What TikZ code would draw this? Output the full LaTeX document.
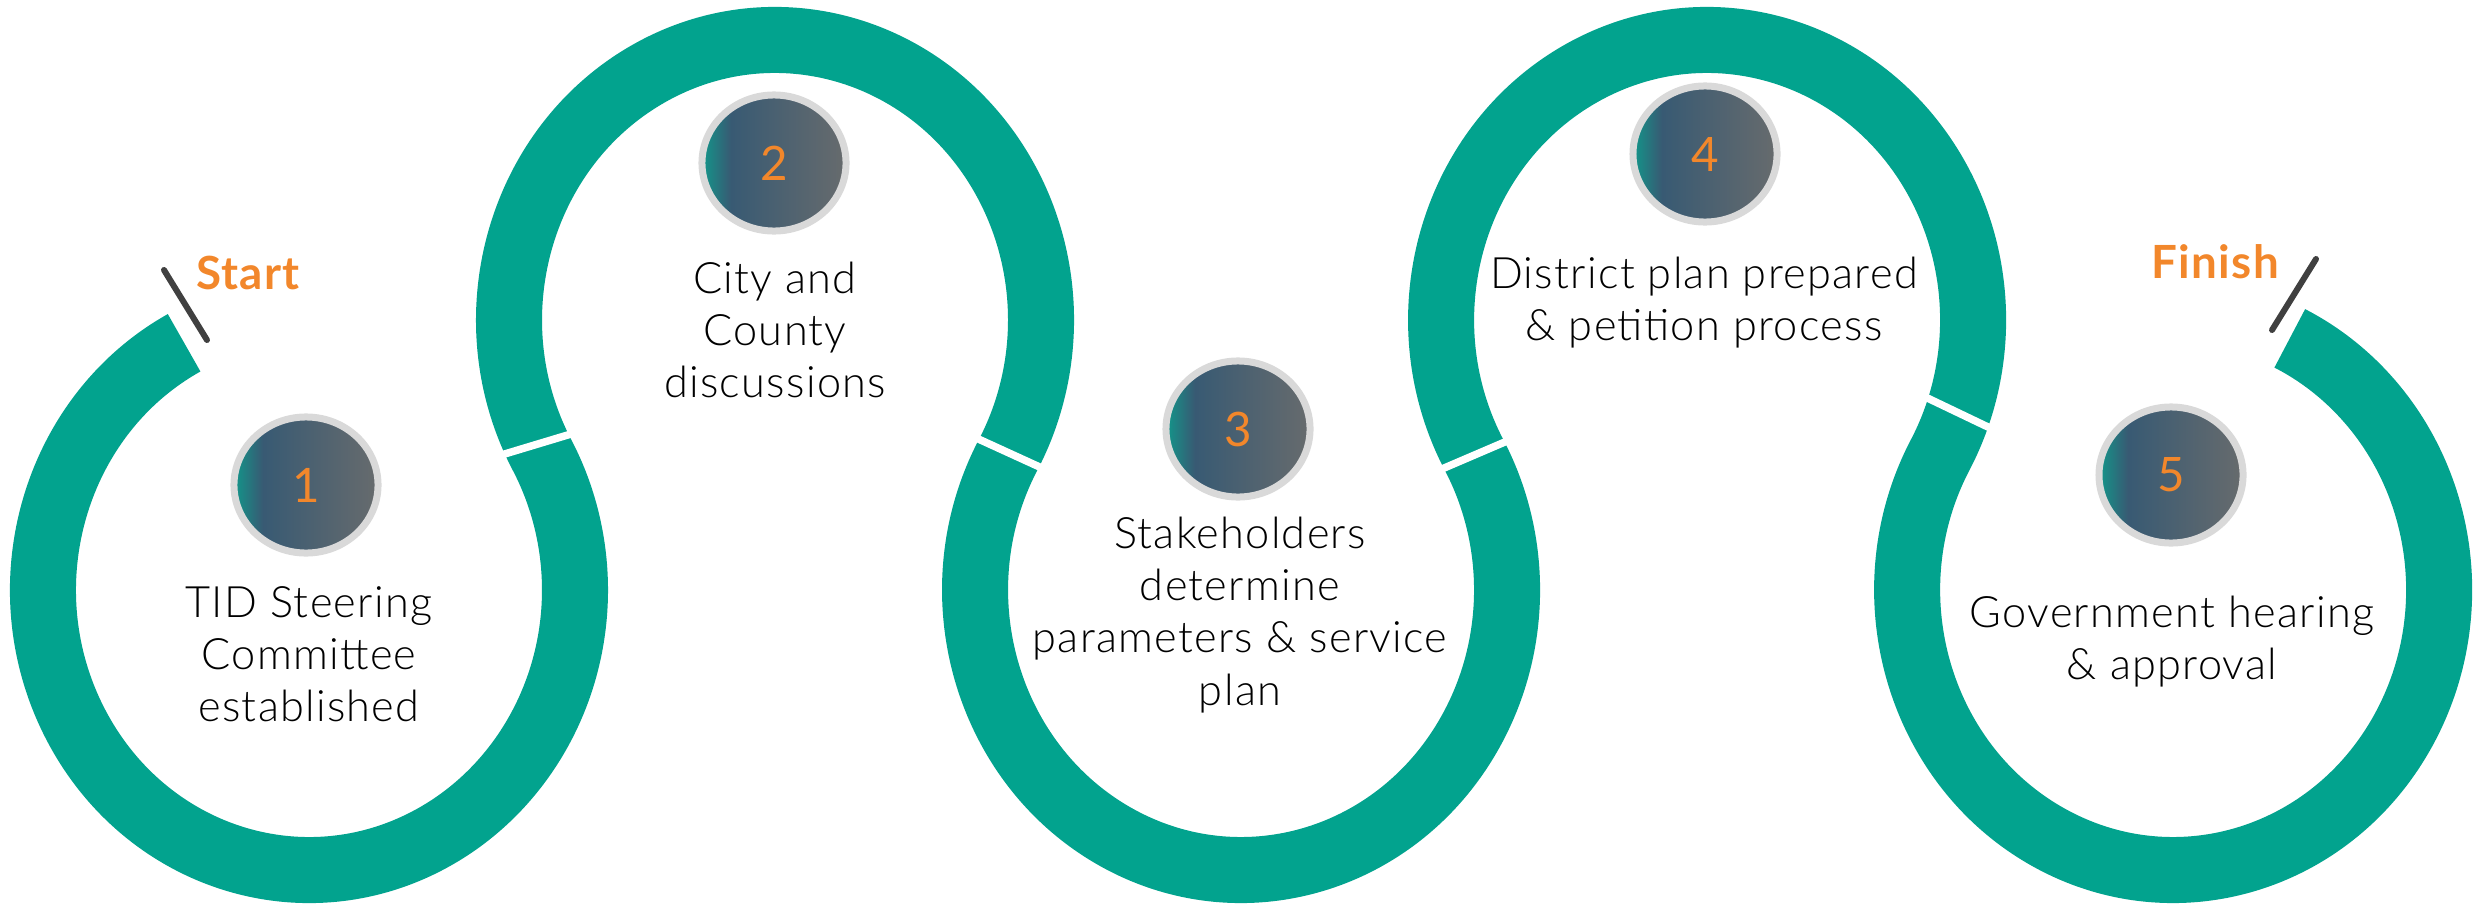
\documentclass[tikz,border=0pt]{standalone}
\usepackage{fontspec}
\setmainfont{Lato Light}[BoldFont={Lato Bold}, LetterSpace=3]
\newfontfamily\numfont{Lato}
\usetikzlibrary{shapes.geometric}

\definecolor{bandteal}{RGB}{2,163,142}
\definecolor{numorange}{RGB}{242,135,43}
\definecolor{ringgrey}{RGB}{217,217,217}
\definecolor{tickgrey}{RGB}{64,64,64}
\definecolor{shteal}{RGB}{18,150,138}
\definecolor{shslate}{RGB}{56,90,115}
\definecolor{shgrey}{RGB}{103,107,109}

% teal edge on the left, slate to grey towards the right
\pgfdeclarehorizontalshading{badgefill}{100bp}{color(0bp)=(shteal); color(25bp)=(shteal);
  color(35bp)=(shslate); color(75bp)=(shgrey); color(100bp)=(shgrey)}

\begin{document}
\begin{tikzpicture}[x=0.01cm, y=0.01cm,
        band/.style={draw=bandteal, line width=6.6mm},
        cut/.style={draw=white, line width=0.75mm},
        tick/.style={draw=tickgrey, line width=0.6mm, line cap=round},
        badge/.style={ellipse, shading=badgefill, draw=ringgrey, line width=0.7mm,
          minimum width=14.4mm, minimum height=13.6mm, inner sep=0pt,
          text=numorange, font=\numfont\fontsize{13.5pt}{15pt}\selectfont},
        lbl/.style={align=center, text=black, font=\fontsize{12.3pt}{14.8pt}\selectfont},
        tag/.style={text=numorange, font=\bfseries\fontsize{13pt}{15pt}\selectfont}
      ]
      \useasboundingbox (0,0) rectangle (2476,908);
      % loop centres, bottom and top in turn
      \foreach \x/\y [count=\i] in {309/318, 775/588, 1241/318, 1707/588, 2173/318} {
        \coordinate (c\i) at (\x,\y);
      }
      % the snake: five tangent ellipses
      \draw[band] (c1) ++(118:266 and 280)
        arc[start angle=118, end angle=388.83, x radius=266, y radius=280]
        arc[start angle=208.83, end angle=-28.83, x radius=266, y radius=280]
        arc[start angle=151.17, end angle=388.83, x radius=266, y radius=280]
        arc[start angle=208.83, end angle=-28.83, x radius=266, y radius=280]
        arc[start angle=151.17, end angle=424, x radius=266, y radius=280];
      % white breaks between the steps
      \draw[cut] (503,453.5) -- (576,475.5);
      \draw[cut] (974,471) -- (1044,439);
      \draw[cut] (1436,436.5) -- (1506,466.5);
      \draw[cut] (1920,513.5) -- (1989,480.5);
      % start and finish marks
      \draw[tick] (164,638) -- (207,568);
      \draw[tick] (2316,649) -- (2272,578);
      \node[tag] (start) at (248,635) {Start};
      \node[tag] (finish) at (2215,646) {Finish};
      % numbered badges
      \foreach \x/\y [count=\i] in {306/423, 774/745, 1238/479, 1705/754, 2171/433} {
        \node[badge] (b\i) at (\x,\y) {\i};
      }
      \node[lbl] (t1) at (309,254) {TID Steering\\Committee\\established};
      \node[lbl] (t2) at (775,578) {City and\\County\\discussions};
      \node[lbl] (t3) at (1240,293) {Stakeholders\\determine\\parameters \& service\\plan};
      \node[lbl] (t4) at (1704,605) {District plan prepared\\\& petition process};
      \node[lbl] (t5) at (2172,266) {Government hearing\\\& approval};
    \end{tikzpicture}
\end{document}
